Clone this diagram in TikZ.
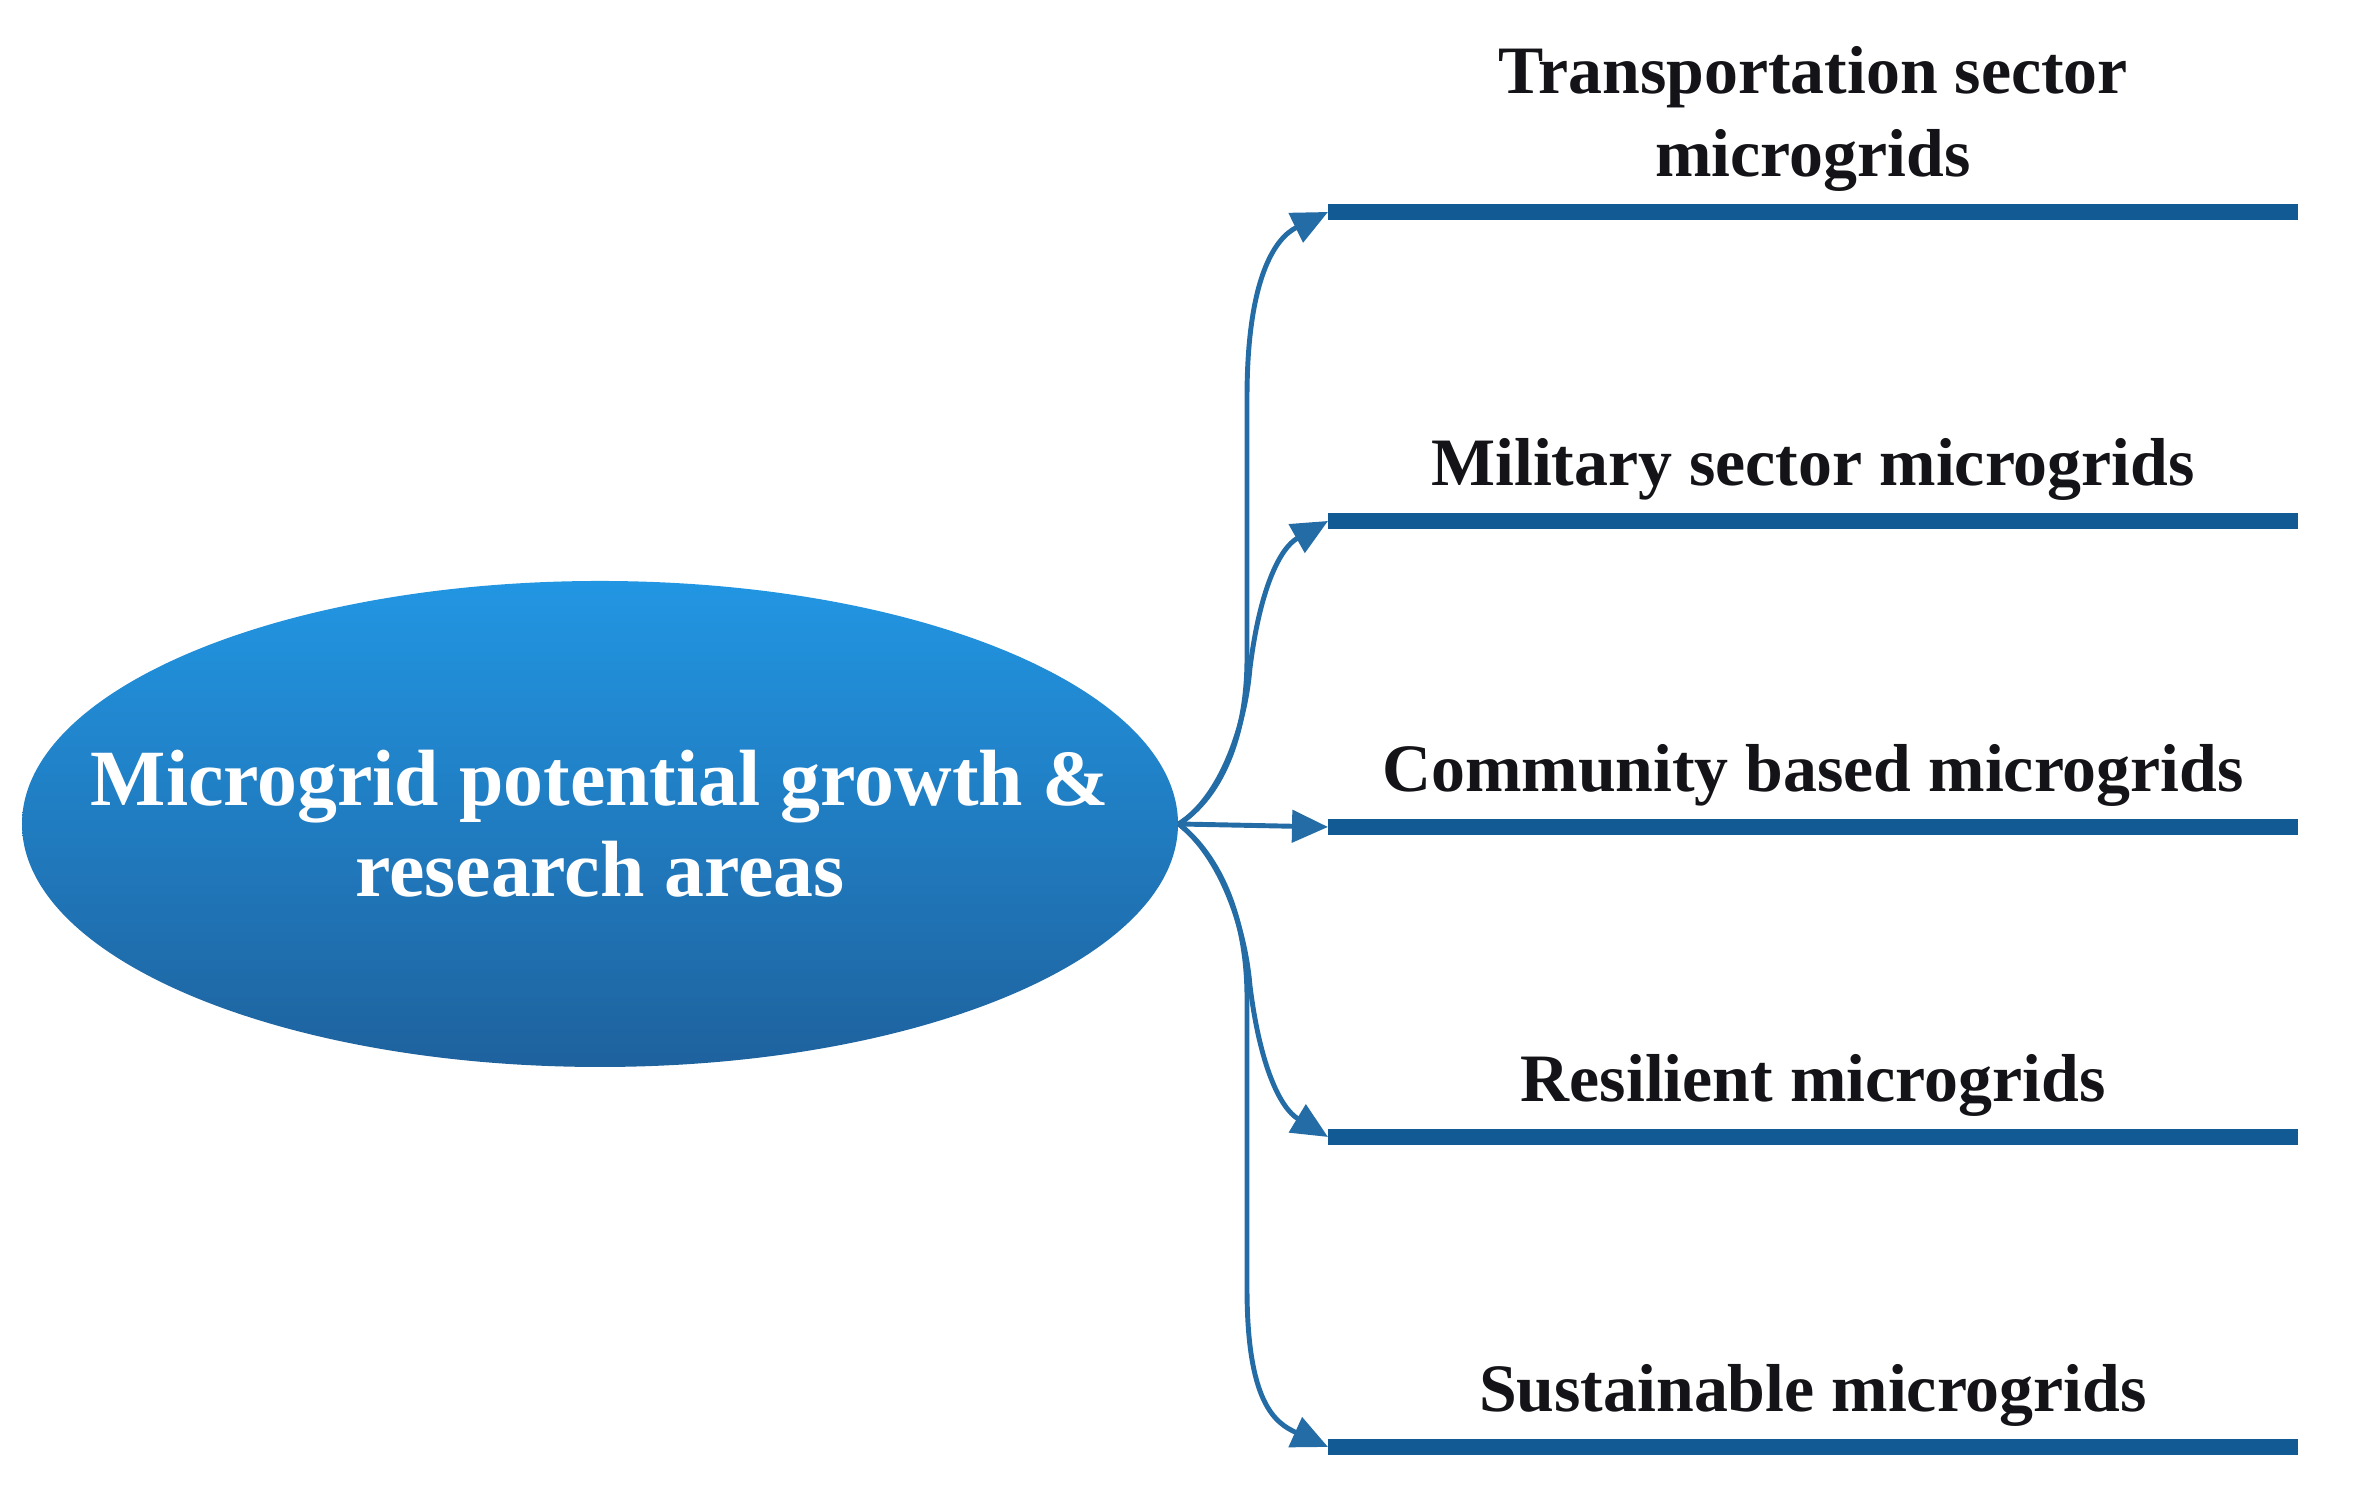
\documentclass[tikz,border=0pt]{standalone}
\usepackage{fontspec}
\setmainfont{Liberation Serif}
\usepackage{tikz}
\usetikzlibrary{calc,shapes.geometric,arrows.meta}

\definecolor{rootTop}{RGB}{34,150,227}
\definecolor{rootBot}{RGB}{30,98,158}
\definecolor{lineBlue}{RGB}{18,90,148}
\definecolor{arrBlue}{RGB}{36,108,166}
\definecolor{labelInk}{RGB}{20,20,24}

\tikzset{
  rootnode/.style={ellipse, minimum width=11.56cm, minimum height=4.86cm, inner sep=0pt,
    top color=rootTop, bottom color=rootBot, draw=none},
  roottext/.style={text=white, align=center, inner sep=0pt,
    font=\fontsize{22.7}{26}\selectfont\bfseries},
  arealine/.style={draw=lineBlue, line width=4.3pt},
  branch/.style={draw=arrBlue, line width=1.4pt, -{Triangle[length=0.36cm,width=0.32cm]}},
  arealabel/.style={anchor=south, inner sep=0pt, align=center, text=labelInk,
    font=\fontsize{19.3}{23.6}\selectfont\bfseries}
}

\begin{document}
\begin{tikzpicture}
  \useasboundingbox (0,0) rectangle (23.75,15.08);

  \node[rootnode] (root) at (6.0,6.84) {};
  \node[roottext] (rootlabel) at (root.center) {Microgrid potential growth \&\\research areas};

  % start and end of the five lines
  \coordinate (s1) at (13.28,12.96); \coordinate (e1) at (22.98,12.96);
  \coordinate (s2) at (13.28,9.87);  \coordinate (e2) at (22.98,9.87);
  \coordinate (s3) at (13.28,6.81);  \coordinate (e3) at (22.98,6.81);
  \coordinate (s4) at (13.28,3.71);  \coordinate (e4) at (22.98,3.71);
  \coordinate (s5) at (13.28,0.61);  \coordinate (e5) at (22.98,0.61);

  \foreach \i in {1,...,5}
    \draw[arealine] (s\i) -- (e\i);

  \node[arealabel] (l1) at ($(s1)!0.5!(e1)+(0,0.2)$) {Transportation sector\\microgrids};
  \node[arealabel] (l2) at ($(s2)!0.5!(e2)+(0,0.2)$) {Military sector microgrids};
  \node[arealabel] (l3) at ($(s3)!0.5!(e3)+(0,0.2)$) {Community based microgrids};
  \node[arealabel] (l4) at ($(s4)!0.5!(e4)+(0,0.2)$) {Resilient microgrids};
  \node[arealabel] (l5) at ($(s5)!0.5!(e5)+(0,0.2)$) {Sustainable microgrids};

  % fan of arrows
  \draw[branch] (root.east) .. controls (12.2,7.1) and (12.47,7.7) .. (12.47,8.5)
    -- (12.47,11.1) .. controls (12.47,12.3) and (12.75,12.7) .. (s1);
  \draw[branch] (root.east) .. controls (12.2,7.1) and (12.45,7.8) .. (12.5,8.4)
    .. controls (12.6,9.2) and (12.8,9.6) .. (s2);
  \draw[branch] (root.east) -- (s3);
  \draw[branch] (root.east) .. controls (12.2,6.52) and (12.45,5.82) .. (12.5,5.22)
    .. controls (12.6,4.42) and (12.8,4.0) .. (s4);
  \draw[branch] (root.east) .. controls (12.2,6.52) and (12.47,5.9) .. (12.47,5.1)
    -- (12.47,2.2) .. controls (12.47,1.05) and (12.75,0.85) .. (s5);
\end{tikzpicture}
\end{document}
